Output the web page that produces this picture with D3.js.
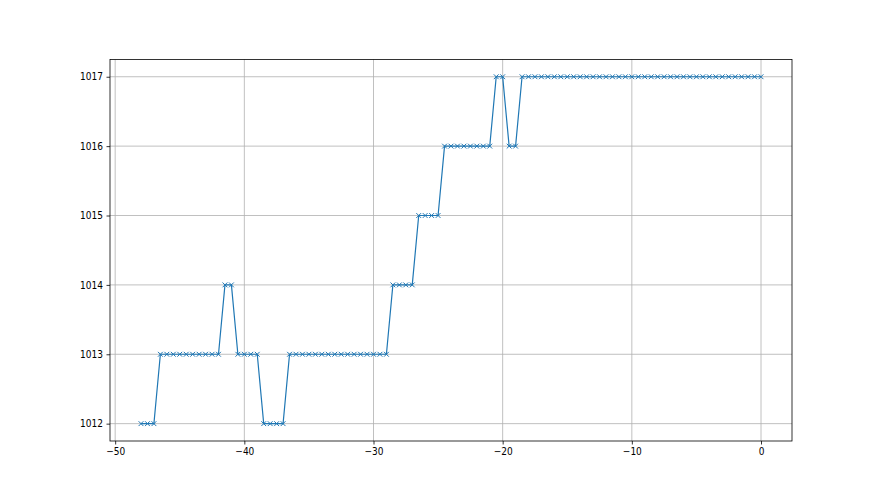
<!DOCTYPE html>
<html>
<head>
<meta charset="utf-8">
<script src="https://cdn.jsdelivr.net/npm/d3@7"></script>
<style>
  body { margin: 0; background: #fff; }
  svg text { font-family: "Liberation Sans Narrow", "DejaVu Sans Condensed", sans-serif; }
</style>
</head>
<body>
<script>
// time offsets and readings
let times = [
  -48, -47.5, -47, -46.5, -46, -45.5, -45, -44.5, -44, -43.5, -43, -42.5, -42,
  -41.5, -41, -40.5, -40, -39.5, -39, -38.5, -38, -37.5, -37, -36.5, -36, -35.5,
  -35, -34.5, -34, -33.5, -33, -32.5, -32, -31.5, -31, -30.5, -30, -29.5, -29,
  -28.5, -28, -27.5, -27, -26.5, -26, -25.5, -25, -24.5, -24, -23.5, -23, -22.5,
  -22, -21.5, -21, -20.5, -20, -19.5, -19, -18.5, -18, -17.5, -17, -16.5, -16,
  -15.5, -15, -14.5, -14, -13.5, -13, -12.5, -12, -11.5, -11, -10.5, -10, -9.5,
  -9, -8.5, -8, -7.5, -7, -6.5, -6, -5.5, -5, -4.5, -4, -3.5, -3, -2.5, -2,
  -1.5, -1, -0.5, 0
];
let readings = [
  1012, 1012, 1012,
  1013, 1013, 1013, 1013, 1013, 1013, 1013, 1013, 1013, 1013,
  1014, 1014,
  1013, 1013, 1013, 1013,
  1012, 1012, 1012, 1012,
  1013, 1013, 1013, 1013, 1013, 1013, 1013, 1013, 1013, 1013, 1013, 1013, 1013, 1013, 1013, 1013,
  1014, 1014, 1014, 1014,
  1015, 1015, 1015, 1015,
  1016, 1016, 1016, 1016, 1016, 1016, 1016, 1016,
  1017, 1017,
  1016, 1016,
  1017, 1017, 1017, 1017, 1017, 1017, 1017, 1017, 1017, 1017, 1017, 1017, 1017,
  1017, 1017, 1017, 1017, 1017, 1017, 1017, 1017, 1017, 1017, 1017, 1017, 1017,
  1017, 1017, 1017, 1017, 1017, 1017, 1017, 1017, 1017, 1017, 1017, 1017
];
let xTicks = [-50, -40, -30, -20, -10, 0];
let yTicks = [1012, 1013, 1014, 1015, 1016, 1017];

let margin = {top: 59.4, left: 110, bottom: 54, right: 88};
let width = 880 - margin.left - margin.right;
let height = 495 - margin.top - margin.bottom;
let lineColor = "#1f77b4";

let svg = d3.select("body").append("svg")
  .attr("width", 880)
  .attr("height", 495)
  .append("g")
  .attr("transform", `translate(${margin.left}, ${margin.top})`);

// matplotlib style 5% padding around the data
let xPad = (d3.max(times) - d3.min(times)) * 0.05;
let yPad = (d3.max(readings) - d3.min(readings)) * 0.05;
let x = d3.scaleLinear()
  .domain([d3.min(times) - xPad, d3.max(times) + xPad])
  .range([0, width]);
let y = d3.scaleLinear()
  .domain([d3.min(readings) - yPad, d3.max(readings) + yPad])
  .range([height, 0]);

let fmt = d => String(d).replace("-", "\u2212");

// grid
svg.append("g")
  .selectAll("line.gx")
  .data(xTicks)
  .enter().append("line")
    .attr("x1", d => x(d)).attr("x2", d => x(d))
    .attr("y1", 0).attr("y2", height)
    .attr("stroke", "#b0b0b0").attr("stroke-width", 0.8);
svg.append("g")
  .selectAll("line.gy")
  .data(yTicks)
  .enter().append("line")
    .attr("x1", 0).attr("x2", width)
    .attr("y1", d => y(d)).attr("y2", d => y(d))
    .attr("stroke", "#b0b0b0").attr("stroke-width", 0.8);

// the series
let points = times.map((t, i) => ({t: t, v: readings[i]}));
svg.append("path")
  .datum(points)
  .attr("fill", "none")
  .attr("stroke", lineColor)
  .attr("stroke-width", 1.2)
  .attr("d", d3.line().x(d => x(d.t)).y(d => y(d.v)));

let m = 2.4;
svg.append("g")
  .selectAll("path")
  .data(points)
  .enter().append("path")
    .attr("d", d => {
      let cx = x(d.t), cy = y(d.v);
      return `M${cx - m},${cy - m}L${cx + m},${cy + m}M${cx - m},${cy + m}L${cx + m},${cy - m}`;
    })
    .attr("stroke", lineColor)
    .attr("stroke-width", 1);

// axes
let xAxis = svg.append("g")
  .attr("transform", `translate(0, ${height})`)
  .call(d3.axisBottom(x).tickValues(xTicks).tickFormat(fmt).tickSize(3.5).tickPadding(3.5));
let yAxis = svg.append("g")
  .call(d3.axisLeft(y).tickValues(yTicks).tickFormat(d => d).tickSize(3.5).tickPadding(3.5));

[xAxis, yAxis].forEach(a => {
  a.select(".domain").remove();
  a.selectAll("line").attr("stroke", "#000").attr("stroke-width", 0.8);
  a.selectAll("text").attr("fill", "#000").style("font-size", "10px");
});

// spines
svg.append("rect")
  .attr("x", 0).attr("y", 0)
  .attr("width", width).attr("height", height)
  .attr("fill", "none")
  .attr("stroke", "#000")
  .attr("stroke-width", 0.8);
</script>
</body>
</html>
